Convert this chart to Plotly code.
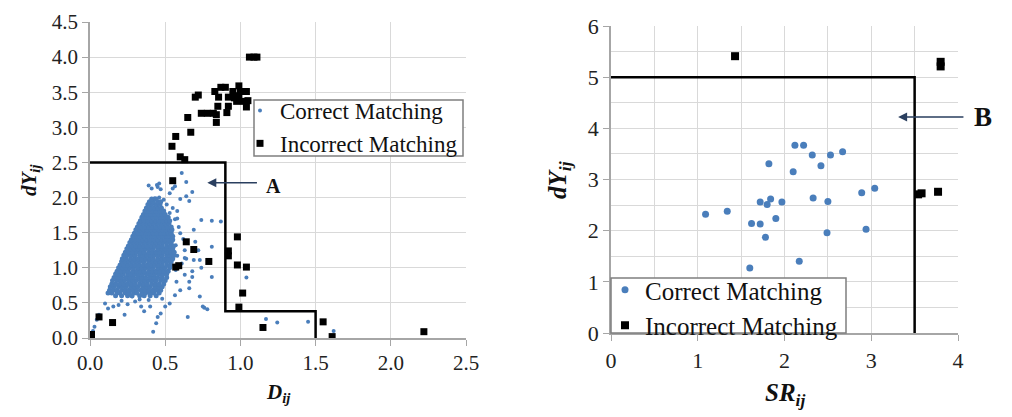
import plotly.graph_objects as go

# ---- left panel: D_ij vs dY_ij ----
# dense cloud of correct matches, read row by row (y, [x ...])
cloud_rows = [
    (0.60, [0.17, 0.21, 0.25, 0.28, 0.33, 0.36, 0.40, 0.44]),
    (0.64, [0.12, 0.145, 0.18, 0.20, 0.235, 0.26, 0.29, 0.31, 0.345, 0.37, 0.40, 0.425, 0.46]),
    (0.68, [0.13, 0.155, 0.18, 0.21, 0.235, 0.26, 0.285, 0.31, 0.34, 0.365, 0.39, 0.42, 0.445, 0.47]),
    (0.73, [0.135, 0.16, 0.19, 0.215, 0.24, 0.27, 0.295, 0.32, 0.35, 0.375, 0.40, 0.43, 0.455, 0.48]),
    (0.77, [0.145, 0.17, 0.20, 0.225, 0.25, 0.275, 0.30, 0.33, 0.355, 0.38, 0.41, 0.435, 0.46, 0.49]),
    (0.82, [0.15, 0.18, 0.205, 0.23, 0.26, 0.285, 0.31, 0.34, 0.365, 0.39, 0.415, 0.44, 0.47, 0.50]),
    (0.86, [0.16, 0.185, 0.21, 0.24, 0.265, 0.29, 0.32, 0.345, 0.37, 0.40, 0.425, 0.45, 0.48, 0.51]),
    (0.91, [0.17, 0.195, 0.22, 0.25, 0.275, 0.30, 0.325, 0.35, 0.38, 0.405, 0.43, 0.46, 0.485, 0.51]),
    (0.95, [0.18, 0.205, 0.23, 0.255, 0.285, 0.31, 0.335, 0.36, 0.39, 0.415, 0.44, 0.465, 0.49, 0.52]),
    (1.00, [0.19, 0.215, 0.24, 0.265, 0.29, 0.32, 0.345, 0.37, 0.395, 0.42, 0.45, 0.475, 0.50, 0.53]),
    (1.04, [0.20, 0.225, 0.25, 0.275, 0.30, 0.325, 0.355, 0.38, 0.405, 0.43, 0.455, 0.48, 0.51, 0.535]),
    (1.09, [0.21, 0.235, 0.26, 0.285, 0.31, 0.335, 0.36, 0.39, 0.415, 0.44, 0.465, 0.49, 0.515, 0.54]),
    (1.13, [0.215, 0.24, 0.27, 0.295, 0.32, 0.345, 0.37, 0.395, 0.42, 0.45, 0.475, 0.50, 0.525, 0.55]),
    (1.18, [0.225, 0.25, 0.275, 0.30, 0.33, 0.355, 0.38, 0.405, 0.43, 0.455, 0.48, 0.51, 0.535, 0.56]),
    (1.22, [0.235, 0.26, 0.285, 0.31, 0.335, 0.36, 0.39, 0.415, 0.44, 0.465, 0.49, 0.515, 0.54, 0.56]),
    (1.27, [0.245, 0.27, 0.295, 0.32, 0.345, 0.37, 0.395, 0.42, 0.45, 0.475, 0.50, 0.525, 0.55]),
    (1.31, [0.255, 0.28, 0.305, 0.33, 0.355, 0.38, 0.405, 0.43, 0.455, 0.48, 0.51, 0.535, 0.555]),
    (1.36, [0.265, 0.29, 0.315, 0.34, 0.365, 0.39, 0.415, 0.44, 0.465, 0.49, 0.515, 0.54]),
    (1.40, [0.275, 0.30, 0.325, 0.35, 0.375, 0.40, 0.425, 0.45, 0.475, 0.50, 0.525, 0.55]),
    (1.45, [0.285, 0.31, 0.335, 0.36, 0.385, 0.41, 0.435, 0.46, 0.485, 0.51, 0.535, 0.55]),
    (1.49, [0.295, 0.32, 0.345, 0.37, 0.395, 0.42, 0.445, 0.47, 0.495, 0.52, 0.54]),
    (1.54, [0.305, 0.33, 0.355, 0.38, 0.405, 0.43, 0.455, 0.48, 0.505, 0.53, 0.545]),
    (1.58, [0.315, 0.34, 0.365, 0.39, 0.415, 0.44, 0.465, 0.49, 0.515, 0.54]),
    (1.63, [0.325, 0.35, 0.375, 0.40, 0.425, 0.45, 0.475, 0.50, 0.525]),
    (1.67, [0.335, 0.36, 0.385, 0.41, 0.435, 0.46, 0.485, 0.51, 0.53]),
    (1.72, [0.345, 0.37, 0.395, 0.42, 0.445, 0.47, 0.495, 0.52]),
    (1.76, [0.355, 0.38, 0.405, 0.43, 0.455, 0.48, 0.50]),
    (1.81, [0.365, 0.39, 0.415, 0.44, 0.465, 0.49]),
    (1.85, [0.375, 0.40, 0.425, 0.45, 0.475]),
    (1.90, [0.385, 0.41, 0.44, 0.465]),
    (1.94, [0.395, 0.42, 0.45, 0.47]),
    (1.98, [0.41, 0.44]),
]

# scattered correct matches around the cloud (x, y)
fringe_left = [
    (0.02, 0.10), (0.03, 0.16), (0.045, 0.26), (0.06, 0.33), (0.10, 0.49), (0.12, 0.42),
    (0.155, 0.45), (0.19, 0.47), (0.23, 0.33), (0.28, 0.59), (0.30, 0.52), (0.33, 0.55),
    (0.34, 0.45), (0.39, 0.54), (0.42, 0.09), (0.44, 0.21), (0.45, 0.30), (0.47, 0.35),
    (0.50, 0.45), (0.53, 0.49), (0.48, 0.56), (0.40, 0.45), (0.36, 0.38), (0.25, 0.48),
    (0.21, 0.53), (0.565, 0.61), (0.60, 0.68), (0.66, 0.71), (0.65, 0.30), (0.73, 0.59),
    (0.75, 0.45), (0.78, 0.41), (0.76, 0.43), (0.57, 0.97), (0.575, 0.80), (0.61, 1.06),
    (0.63, 0.90), (0.64, 1.13), (0.58, 1.17), (0.63, 1.25), (0.57, 1.32), (0.62, 1.41),
    (0.60, 1.49), (0.59, 1.58), (0.58, 1.70), (0.565, 1.69), (0.68, 0.87), (0.69, 1.11),
    (0.74, 1.00), (0.73, 1.11), (0.72, 1.25), (0.70, 1.37), (0.69, 1.54), (0.81, 1.30),
    (0.81, 0.87), (0.79, 1.09), (0.66, 0.80), (0.68, 0.95), (0.63, 1.14), (0.74, 1.68),
    (0.81, 1.67), (0.87, 1.66), (1.04, 0.86), (0.49, 1.97), (0.51, 1.90), (0.55, 1.85),
    (0.58, 1.81), (0.53, 1.78), (0.46, 2.00), (0.43, 1.99), (0.445, 2.18), (0.45, 2.15),
    (0.47, 2.12), (0.46, 2.20), (0.39, 2.17), (0.41, 2.13), (0.53, 2.06), (0.565, 2.16),
    (0.61, 2.35), (0.64, 2.22), (0.68, 2.08), (0.55, 2.13), (0.60, 1.98), (0.66, 1.95),
    (0.64, 2.02), (1.17, 0.27), (1.245, 0.22), (1.45, 0.23), (1.62, 0.10),
]

incorrect_left_x = [0.01, 0.06, 0.15, 0.55, 0.545, 0.57, 0.60, 0.63, 0.65, 0.67, 0.70, 0.72,
                    0.74, 0.78, 0.82, 0.83, 0.84, 0.84, 0.85, 0.855, 0.87, 0.90, 0.91, 0.92,
                    0.92, 0.95, 0.96, 0.975, 0.99, 0.99, 1.00, 1.02, 1.04, 1.04, 1.05, 1.06,
                    1.09, 1.11, 0.64, 0.69, 0.79, 0.59, 0.57, 0.98, 0.92, 0.92, 0.98, 1.04,
                    1.015, 0.99, 1.15, 1.55, 1.61, 2.22]
incorrect_left_y = [0.05, 0.30, 0.22, 2.24, 2.73, 2.87, 2.58, 2.54, 3.14, 2.93, 3.43, 3.46,
                    3.20, 3.20, 3.20, 3.51, 3.07, 3.18, 3.30, 3.43, 3.57, 3.57, 3.21, 3.30,
                    3.43, 3.51, 3.42, 3.37, 3.59, 3.45, 3.51, 3.37, 3.51, 3.29, 3.38, 4.00,
                    4.00, 4.00, 1.37, 1.26, 1.09, 1.03, 1.01, 1.44, 1.24, 1.17, 1.04, 1.01,
                    0.64, 0.44, 0.15, 0.23, 0.02, 0.09]

bound_left_x = [0, 0.9, 0.9, 1.5, 1.5]
bound_left_y = [2.5, 2.5, 0.38, 0.38, 0]

# ---- right panel: SR_ij vs dY_ij ----
correct_right_x = [1.09, 1.34, 1.60, 1.62, 1.72, 1.72, 1.78, 1.80, 1.82, 1.84, 1.90, 1.97, 2.10,
                   2.12, 2.17, 2.22, 2.32, 2.33, 2.42, 2.49, 2.50, 2.53, 2.67, 2.89, 2.94, 3.04]
correct_right_y = [2.32, 2.38, 1.27, 2.14, 2.56, 2.13, 1.87, 2.51, 3.31, 2.62, 2.24, 2.56, 3.15,
                   3.67, 1.40, 3.67, 3.48, 2.64, 3.27, 1.96, 2.57, 3.48, 3.54, 2.74, 2.03, 2.83]
incorrect_right_x = [1.43, 3.80, 3.80, 3.54, 3.58, 3.77]
incorrect_right_y = [5.41, 5.30, 5.21, 2.71, 2.73, 2.76]

bound_right_x = [0, 3.5, 3.5]
bound_right_y = [5, 5, 0]

core_x = [x for y, xs in cloud_rows for x in xs]
core_y = [y for y, xs in cloud_rows for x in xs]
fringe_x = [p[0] for p in fringe_left]
fringe_y = [p[1] for p in fringe_left]

FONT = "Liberation Serif, Times New Roman, serif"
BLUE = "#4a7ebb"
OFF = 8                      # page body margin
W, H = 1012 - OFF, 417 - OFF

fig = go.Figure()

fig.add_trace(go.Scatter(x=fringe_x, y=fringe_y, mode="markers", name="Correct Matching",
                         legendgroup="c", marker=dict(color=BLUE, size=4),
                         xaxis="x", yaxis="y", legend="legend"))
fig.add_trace(go.Scatter(x=core_x, y=core_y, mode="markers", name="Correct Matching",
                         legendgroup="c", showlegend=False, marker=dict(color=BLUE, size=5),
                         xaxis="x", yaxis="y"))
fig.add_trace(go.Scatter(x=incorrect_left_x, y=incorrect_left_y, mode="markers",
                         name="Incorrect Matching",
                         marker=dict(color="black", size=7, symbol="square"),
                         xaxis="x", yaxis="y", legend="legend"))
fig.add_trace(go.Scatter(x=bound_left_x, y=bound_left_y, mode="lines", showlegend=False,
                         line=dict(color="black", width=2.5), xaxis="x", yaxis="y"))

fig.add_trace(go.Scatter(x=correct_right_x, y=correct_right_y, mode="markers",
                         name="Correct Matching", marker=dict(color=BLUE, size=7),
                         xaxis="x2", yaxis="y2", legend="legend2"))
fig.add_trace(go.Scatter(x=incorrect_right_x, y=incorrect_right_y, mode="markers",
                         name="Incorrect Matching",
                         marker=dict(color="black", size=8, symbol="square"),
                         xaxis="x2", yaxis="y2", legend="legend2"))
fig.add_trace(go.Scatter(x=bound_right_x, y=bound_right_y, mode="lines", showlegend=False,
                         line=dict(color="black", width=2.5), xaxis="x2", yaxis="y2"))


def px_x(p):
    return (p - OFF) / W


def px_y(p):
    return 1 - (p - OFF) / H


def axis_style(size):
    return dict(
        showgrid=True, gridcolor="#d9d9d9", gridwidth=1,
        showline=True, linecolor="#a6a6a6", linewidth=1.5,
        ticks="outside", ticklen=6, tickcolor="#a6a6a6",
        zeroline=False,
        tickfont=dict(family=FONT, size=size, color="#222"),
    )


leg_common = dict(
    bgcolor="rgba(0,0,0,0)", borderwidth=0,
    xanchor="left", yanchor="top", tracegroupgap=0,
    itemsizing="trace",
)

fig.update_layout(
    width=W, height=H,
    margin=dict(l=0, r=0, t=0, b=0, autoexpand=False),
    paper_bgcolor="white", plot_bgcolor="white",
    showlegend=True,
    xaxis=dict(domain=[px_x(90), px_x(466)], range=[0, 2.5], tickvals=[0, 0.5, 1, 1.5, 2, 2.5],
               tickformat=".1f", anchor="y", ticklabelstandoff=-1, **axis_style(21)),
    yaxis=dict(domain=[px_y(338), px_y(22)], range=[0, 4.5],
               tickvals=[0, 0.5, 1, 1.5, 2, 2.5, 3, 3.5, 4, 4.5],
               tickformat=".1f", anchor="x", ticklabelstandoff=0, **axis_style(21)),
    xaxis2=dict(domain=[px_x(611), px_x(958)], range=[0, 4], tickvals=[0, 1, 2, 3, 4],
                minor=dict(tickvals=[0.5, 1.5, 2.5, 3.5], showgrid=True, gridcolor="#d9d9d9"),
                anchor="y2", ticklabelstandoff=1, **axis_style(22)),
    yaxis2=dict(domain=[px_y(333), px_y(26)], range=[0, 6], tickvals=[0, 1, 2, 3, 4, 5, 6],
                minor=dict(tickvals=[0.5, 1.5, 2.5, 3.5, 4.5, 5.5], showgrid=True,
                           gridcolor="#d9d9d9"),
                anchor="x2", ticklabelstandoff=0, **axis_style(22)),
    legend=dict(x=px_x(240), y=px_y(89), font=dict(family=FONT, size=23, color="#111"),
                **leg_common),
    legend2=dict(x=px_x(605), y=px_y(267), font=dict(family=FONT, size=25, color="#111"),
                 **leg_common),
)

# legend frames
for x0, x1, y0, y1 in [(254, 463, 100, 156), (611, 846, 278, 333)]:
    fig.add_shape(type="rect", xref="paper", yref="paper", layer="above",
                  x0=px_x(x0), x1=px_x(x1), y0=px_y(y1), y1=px_y(y0),
                  fillcolor="white", line=dict(color="#7f7f7f", width=1.5))


def label(x, y, text, size, angle=0, xref="paper", yref="paper"):
    fig.add_annotation(x=x, y=y, xref=xref, yref=yref, showarrow=False, text=text,
                       textangle=angle, xanchor="center", yanchor="middle",
                       font=dict(family=FONT, size=size, color="#111"))


label(px_x(278), px_y(393), "<b><i>D<sub>ij</sub></i></b>", 21)
label(px_x(30), px_y(180), "<b><i>dY<sub>ij</sub></i></b>", 21, angle=-90)
label(px_x(785), px_y(394), "<b><i>SR<sub>ij</sub></i></b>", 25)
label(px_x(560), px_y(180), "<b><i>dY<sub>ij</sub></i></b>", 25, angle=-90)

# arrows with labels
fig.add_annotation(x=0.78, y=2.21, ax=1.12, ay=2.21, xref="x", yref="y", axref="x", ayref="y",
                   showarrow=True, arrowhead=2, arrowsize=1.2, arrowwidth=1.5, text="")
label(1.22, 2.17, "<b>A</b>", 20, xref="x", yref="y")
fig.add_annotation(x=3.31, y=4.22, ax=4.08, ay=4.22, xref="x2", yref="y2", axref="x2",
                   ayref="y2", showarrow=True, arrowhead=2, arrowsize=1.2, arrowwidth=1.5,
                   text="")
label(px_x(983), px_y(117), "<b>B</b>", 27)

fig.write_html("out.html")
